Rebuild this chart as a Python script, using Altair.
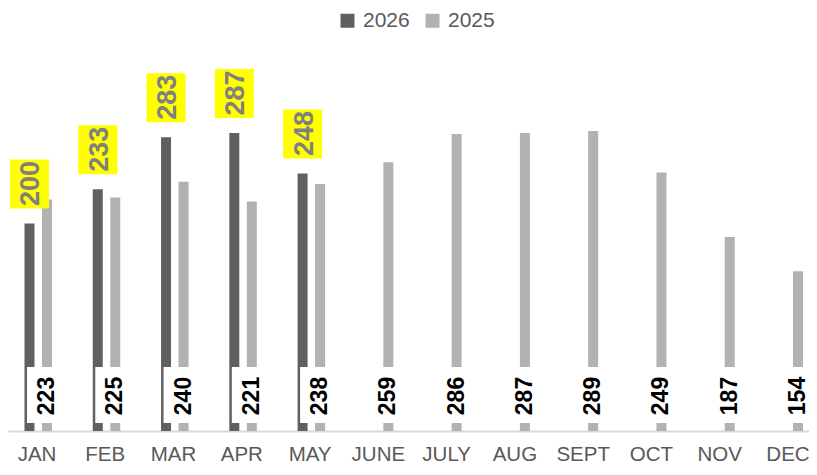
import altair as alt
import pandas as pd

months = ["JAN", "FEB", "MAR", "APR", "MAY", "JUNE", "JULY", "AUG", "SEPT", "OCT", "NOV", "DEC"]
values_2025 = [223, 225, 240, 221, 238, 259, 286, 287, 289, 249, 187, 154]
values_2026 = [200, 233, 283, 287, 248]
series = ["2026", "2025"]
colors = ["#606060", "#b2b2b2"]

df25 = pd.DataFrame({"idx": list(range(len(values_2025))), "month": months,
                     "value": values_2025, "year": "2025", "zero": 0})
df26 = pd.DataFrame({"idx": list(range(len(values_2026))), "month": months[:len(values_2026)],
                     "value": values_2026, "year": "2026", "zero": 0})

label_expr = "[" + ",".join(f"'{m}'" for m in months) + "][datum.value]"

x_scale = alt.Scale(domain=[-0.4467, 11.2857], nice=False, zero=False, padding=0)
y_scale = alt.Scale(domain=[0, 407.5], nice=False, padding=0)

X = alt.X("idx:Q", scale=x_scale,
          axis=alt.Axis(values=list(range(12)), labelExpr=label_expr, title=None,
                        grid=False, ticks=False, domainColor="#d9d9d9", domainWidth=2,
                        labelFontSize=20.5, labelColor="#595959", labelPadding=13,
                        labelOffset=-2, labelFont="Liberation Sans"))
Y = alt.Y("value:Q", scale=y_scale, axis=None)

color = alt.Color("year:N", scale=alt.Scale(domain=series, range=colors),
                  legend=alt.Legend(title=None, orient="none", direction="horizontal",
                                    legendX=329, legendY=2, symbolType="square",
                                    symbolSize=196, symbolStrokeWidth=0,
                                    labelFontSize=21, labelColor="#595959",
                                    labelOffset=5, columnPadding=12,
                                    labelFont="Liberation Sans"))

bars26 = alt.Chart(df26).mark_bar(width=10, xOffset=-9).encode(x=X, y=Y, color=color)
bars25 = alt.Chart(df25).mark_bar(width=10, xOffset=8.5).encode(x=X, y=Y, color=color)

white_box = alt.Chart(df25).mark_rect(color="white", xOffset=-11.5, x2Offset=28.5,
                                      yOffset=-8, y2Offset=-64).encode(
    x=alt.X("idx:Q", scale=x_scale), x2="idx:Q",
    y=alt.Y("zero:Q", scale=y_scale), y2="zero:Q")

text25 = alt.Chart(df25).mark_text(angle=270, align="center", baseline="middle",
                                   fontSize=23, fontWeight="bold", color="black",
                                   font="Liberation Sans", xOffset=8.5, yOffset=-35).encode(
    x=alt.X("idx:Q", scale=x_scale), y=alt.Y("zero:Q", scale=y_scale), text="value:Q")

yellow_box = alt.Chart(df26).mark_rect(color="#ffff00", xOffset=-28.5, x2Offset=10.5,
                                       yOffset=-15, y2Offset=-64).encode(
    x=alt.X("idx:Q", scale=x_scale), x2="idx:Q",
    y=alt.Y("value:Q", scale=y_scale), y2="value:Q")

text26 = alt.Chart(df26).mark_text(angle=270, align="center", baseline="middle",
                                   fontSize=27, fontWeight="bold", color="#808080",
                                   font="Liberation Sans", xOffset=-7, yOffset=-40).encode(
    x=alt.X("idx:Q", scale=x_scale), y=alt.Y("value:Q", scale=y_scale), text="value:Q")

chart = alt.layer(bars26, bars25, white_box, text25, yellow_box, text26).properties(
    width=801, height=423,
    padding={"left": 0, "top": 0, "right": 0, "bottom": 36},
    autosize=alt.AutoSizeParams(type="none")
).configure(font="Liberation Sans").configure_view(stroke=None)

chart.save("out.html", embed_options={"renderer": "svg", "actions": False})
